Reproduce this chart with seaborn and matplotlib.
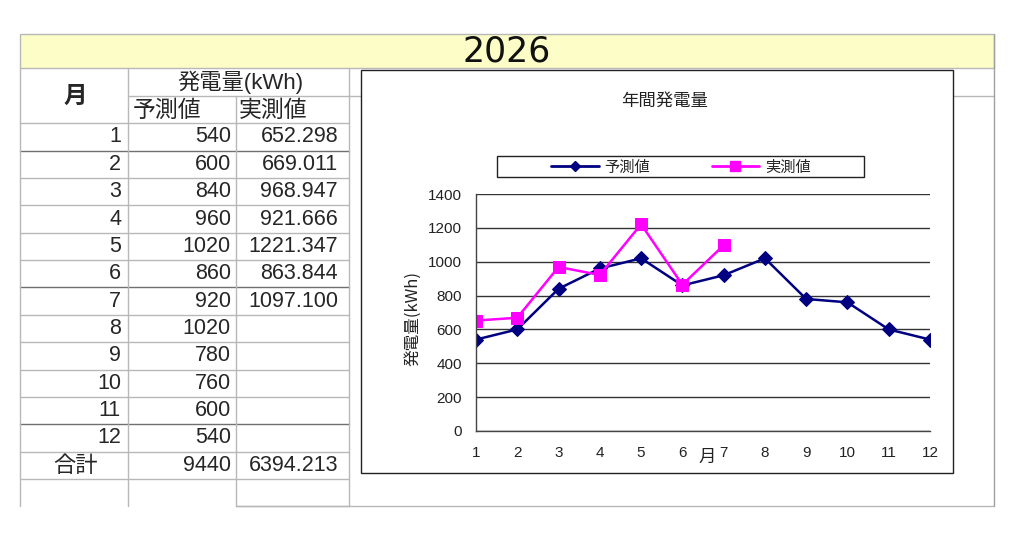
import pandas as pd
import matplotlib
matplotlib.use("Agg")
import matplotlib.pyplot as plt
import seaborn as sns
from matplotlib.patches import Rectangle
from matplotlib.lines import Line2D

year = "2026"
months = [1, 2, 3, 4, 5, 6, 7, 8, 9, 10, 11, 12]
forecast = [540, 600, 840, 960, 1020, 860, 920, 1020, 780, 760, 600, 540]
actual = [652.298, 669.011, 968.947, 921.666, 1221.347, 863.844, 1097.100]
total_label = "合計"
forecast_total = "9440"
actual_total = "6394.213"

sns.set_theme(style="white")
plt.rcParams['font.family'] = ['Noto Sans CJK JP', 'DejaVu Sans']
latin = ['Liberation Sans', 'Noto Sans CJK JP']

fc = pd.DataFrame({"月": months, "発電量": forecast})
ac = pd.DataFrame({"月": months[:len(actual)], "発電量": actual})

W, H = 1024, 533
fig = plt.figure(figsize=(W / 100, H / 100), dpi=100)
fig.patch.set_facecolor("white")

# sheet / table drawn in pixel coords
bg = fig.add_axes([0, 0, 1, 1])
bg.set_xlim(0, W)
bg.set_ylim(H, 0)
bg.axis("off")

light = "#b8b8b8"
dark = "#707070"
bg.add_patch(Rectangle((20, 34), 974, 34, facecolor="#fdfdc8", edgecolor=light, lw=1))
bg.text(507, 51, year, ha="center", va="center", fontsize=25, color="#111111", family="DejaVu Sans")

row_h = 27.36
y0 = 123.3
rows = [y0 + row_h * k for k in range(15)]
for k, y in enumerate(rows):
    x_start = 236 if k == 14 else 20
    col = dark if k in (1, 6, 11) else light
    bg.plot([x_start, 349], [y, y], color=col, lw=1)
bg.plot([128, 994], [96, 96], color=light, lw=1)
bg.plot([236, 994], [rows[-1], rows[-1]], color=light, lw=1)
for x, top in [(20, 68), (128, 68), (236, 96), (349, 68)]:
    bg.plot([x, x], [top, rows[-1]], color=light, lw=1)
bg.plot([994, 994], [34, rows[-1]], color="#a0a0a0", lw=1)

fs = 15.5
bg.text(75, 96, "月", ha="center", va="center", fontsize=17, fontweight="bold")
bg.text(240, 82, "発電量(kWh)", ha="center", va="center", fontsize=16, family=latin)
bg.text(133, 110, "予測値", ha="left", va="center", fontsize=16.5)
bg.text(239, 110, "実測値", ha="left", va="center", fontsize=16.5)
for i, m in enumerate(months):
    yc = rows[i] + row_h / 2
    bg.text(121, yc, str(m), ha="right", va="center", fontsize=fs, family=latin)
    bg.text(231, yc, str(forecast[i]), ha="right", va="center", fontsize=fs, family=latin)
    if i < len(actual):
        bg.text(338, yc, f"{actual[i]:.3f}", ha="right", va="center", fontsize=fs, family=latin)
yc = rows[12] + row_h / 2
bg.text(75, yc, total_label, ha="center", va="center", fontsize=16)
bg.text(231, yc, forecast_total, ha="right", va="center", fontsize=fs, family=latin)
bg.text(338, yc, actual_total, ha="right", va="center", fontsize=fs, family=latin)

# chart frame
bg.add_patch(Rectangle((361, 70), 592, 403, facecolor="white", edgecolor="#222222", lw=1, zorder=5))
bg.text(665, 101, "年間発電量", ha="center", va="center", fontsize=12.5, color="#222222", zorder=6)
bg.add_patch(Rectangle((497, 156), 367, 21, facecolor="white", edgecolor="#222222", lw=1, zorder=6))

# plot area
ax = fig.add_axes([476 / W, (H - 431) / H, (930 - 476) / W, (431 - 194) / H], zorder=3)
ax.set_facecolor("none")
sns.lineplot(data=fc, x="月", y="発電量", color="#000080", marker="D", markersize=7,
             markeredgecolor="#000080", linewidth=1.8, ax=ax, label="予測値", legend=False)
sns.lineplot(data=ac, x="月", y="発電量", color="#ff00ff", marker="s", markersize=9,
             markeredgecolor="#ff00ff", linewidth=1.8, ax=ax, label="実測値", legend=False)
ax.set_xlim(1, 12)
ax.set_ylim(0, 1400)
ax.set_xticks(months)
ax.set_yticks(range(0, 1401, 200))
ax.grid(axis="y", color="#333333", lw=1)
ax.grid(axis="x", visible=False)
for s in ["top", "right"]:
    ax.spines[s].set_visible(False)
for s in ["left", "bottom"]:
    ax.spines[s].set_color("#444444")
    ax.spines[s].set_linewidth(1)
ax.tick_params(axis="x", direction="in", length=4, color="#444444", pad=11, labelsize=11, labelcolor="#222222")
ax.tick_params(axis="y", length=0, pad=10, labelsize=11, labelcolor="#222222")
for lab in ax.get_xticklabels() + ax.get_yticklabels():
    lab.set_family(latin)
ax.set_xlabel("")
ax.set_ylabel("")

bg.text(413, 318, "発電量(kWh)", rotation=90, ha="center", va="center", fontsize=12, color="#222222", zorder=6)
bg.text(707, 457, "月", ha="center", va="center", fontsize=12.5, color="#222222", zorder=6)

handles = [Line2D([], [], color="#000080", marker="D", markersize=5, lw=2),
           Line2D([], [], color="#ff00ff", marker="s", markersize=7, lw=2)]
fig.legend(handles, ["予測値", "実測値"], loc="center", bbox_to_anchor=(681 / W, (H - 167) / H),
           ncol=2, frameon=False, fontsize=11, handlelength=3.1, columnspacing=4.0, handletextpad=0.4)

fig.savefig("out.png", dpi=100)
